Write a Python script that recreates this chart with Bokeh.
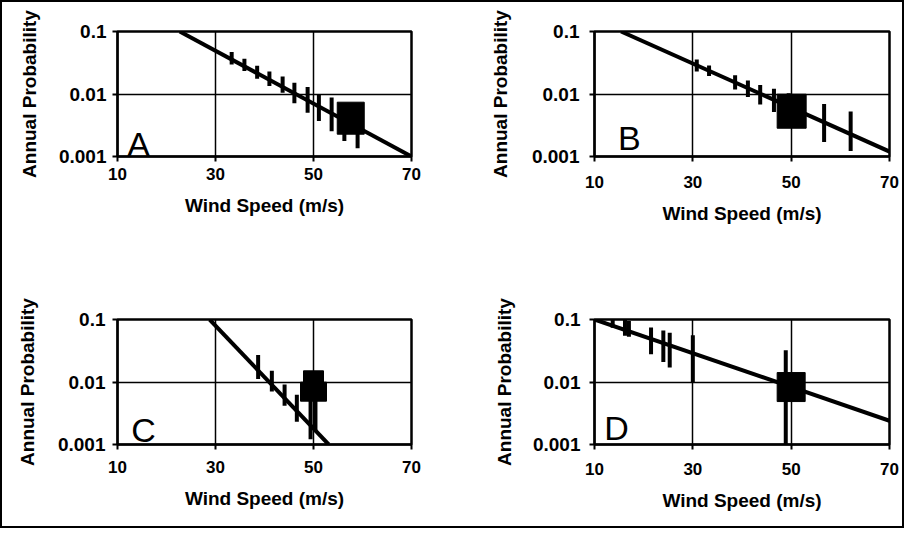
from bokeh.plotting import figure
from bokeh.layouts import gridplot
from bokeh.models import Range1d, FixedTicker, CustomJSTickFormatter, Label
from bokeh.embed import file_html
from bokeh.resources import INLINE

FONT = "Liberation Sans"

x_ticks = [10, 30, 50, 70]
y_ticks = [0.001, 0.01, 0.1]
x_title = "Wind Speed (m/s)"
y_title = "Annual Probability"

# ---- Panel A ----
a_line_x = [22.7, 70]
a_line_y = [0.1, 0.001]
a_bar_x = [33.3, 35.9, 38.5, 41.0, 43.7, 46.1, 48.8, 51.1, 53.7, 56.3, 59.0]
a_bar_lo = [0.0297, 0.0234, 0.0176, 0.0134, 0.0105, 0.00713, 0.00499, 0.00371, 0.00253, 0.00177, 0.00135]
a_bar_hi = [0.0468, 0.0368, 0.0284, 0.0229, 0.0191, 0.0151, 0.0129, 0.00993, 0.00883, 0.0070, 0.0050]
a_mark_x = [57.6]
a_mark_y = [0.0041]

# ---- Panel B ----
b_line_x = [15.4, 70]
b_line_y = [0.1, 0.0012]
b_bar_x = [30.8, 33.3, 38.6, 41.2, 43.7, 46.5, 49.5, 56.7, 62.1]
b_bar_lo = [0.0229, 0.0194, 0.0118, 0.00897, 0.00679, 0.00516, 0.0030, 0.00171, 0.00123]
b_bar_hi = [0.0356, 0.0286, 0.0200, 0.0164, 0.0139, 0.0121, 0.0103, 0.00695, 0.00527]
b_mark_x = [50.1]
b_mark_y = [0.0053]

# ---- Panel C ----
c_line_x = [28.8, 53.1]
c_line_y = [0.1, 0.001]
c_bar_x = [38.7, 41.5, 44.1, 46.6, 49.4, 50.4]
c_bar_lo = [0.0112, 0.00703, 0.00415, 0.00231, 0.00121, 0.0016]
c_bar_hi = [0.0270, 0.0151, 0.0091, 0.00626, 0.0080, 0.0070]
c_mark_x = [50.0]
c_mark_y = [0.0070]
c_cap_y = [0.0121]

# ---- Panel D ----
d_line_x = [10, 70]
d_line_y = [0.1, 0.0024]
d_bar_x = [13.7, 16.2, 17.0, 21.5, 24.0, 25.3, 30.0, 48.9]
d_bar_lo = [0.0741, 0.055, 0.053, 0.0279, 0.0208, 0.0171, 0.0100, 0.0007]
d_bar_hi = [0.140, 0.104, 0.095, 0.0748, 0.0667, 0.0614, 0.056, 0.0321]
d_mark_x = [50.0]
d_mark_y = [0.0083]


def make_panel(letter, letter_x, letter_off, borders, ystand, xstand, ylab_stand, xlab_stand,
               line_x, line_y, bar_x, bar_lo, bar_hi):
    left, right, top, bottom = borders
    p = figure(width=450, height=262, output_backend="svg", toolbar_location=None,
               y_axis_type="log", x_range=Range1d(10, 70), y_range=Range1d(0.001, 0.1),
               min_border_left=left, min_border_right=right,
               min_border_top=top, min_border_bottom=bottom)
    p.background_fill_color = "white"
    p.border_fill_color = "white"
    p.outline_line_color = "black"
    p.outline_line_width = 2.5

    p.xaxis.ticker = FixedTicker(ticks=x_ticks)
    p.yaxis.ticker = FixedTicker(ticks=y_ticks)
    p.yaxis.formatter = CustomJSTickFormatter(code="return tick.toString();")
    for ax in (p.xaxis, p.yaxis):
        ax.axis_line_color = "black"
        ax.axis_line_width = 2
        ax.major_tick_line_color = "black"
        ax.major_tick_line_width = 2
        ax.major_tick_out = 5
        ax.major_tick_in = 0
        ax.minor_tick_line_color = None
        ax.major_label_text_font = FONT
        ax.major_label_text_font_style = "bold"
        ax.major_label_text_color = "black"
        ax.axis_label_text_font = FONT
        ax.axis_label_text_font_style = "bold"
        ax.axis_label_text_font_size = "19px"
        ax.axis_label_text_color = "black"
    p.xaxis.major_label_text_font_size = "17px"
    p.yaxis.major_label_text_font_size = "19px"
    p.xaxis.axis_label = x_title
    p.yaxis.axis_label = y_title
    p.yaxis.major_label_standoff = ystand
    p.xaxis.major_label_standoff = xstand
    p.yaxis.axis_label_standoff = ylab_stand
    p.xaxis.axis_label_standoff = xlab_stand

    for g in (p.xgrid, p.ygrid):
        g.grid_line_color = "black"
        g.grid_line_width = 1.5
        g.grid_line_alpha = 1.0

    p.line(line_x, line_y, line_color="black", line_width=4)
    p.segment(x0=bar_x, y0=bar_lo, x1=bar_x, y1=bar_hi, line_color="black", line_width=4)

    p.add_layout(Label(x=letter_x, y=0.001, text=letter, text_font=FONT,
                       text_font_size="34px", text_color="black",
                       text_baseline="bottom", y_offset=letter_off))
    return p


pa = make_panel("A", 12.0, -6, (114, 41, 29, 108), 6, 6, 16, 12,
                a_line_x, a_line_y, a_bar_x, a_bar_lo, a_bar_hi)
pa.rect(a_mark_x, a_mark_y, width=27, height=32, width_units="screen", height_units="screen",
        fill_color="black", line_color="black")

pb = make_panel("B", 14.8, 0, (133, 11, 22, 105), 10, 14, 18, 12,
                b_line_x, b_line_y, b_bar_x, b_bar_lo, b_bar_hi)
pb.rect(b_mark_x, b_mark_y, width=29, height=34, width_units="screen", height_units="screen",
        fill_color="black", line_color="black")

pc = make_panel("C", 12.8, -4, (115, 41, 55, 80), 7, 11, 17, 12,
                c_line_x, c_line_y, c_bar_x, c_bar_lo, c_bar_hi)
pc.rect(c_mark_x, c_mark_y, width=26, height=19, width_units="screen", height_units="screen",
        fill_color="black", line_color="black")
pc.rect(c_mark_x, c_cap_y, width=20, height=12, width_units="screen", height_units="screen",
        fill_color="black", line_color="black")

pd = make_panel("D", 12.0, -2, (142, 13, 51, 82), 9, 13, 15, 12,
                d_line_x, d_line_y, d_bar_x, d_bar_lo, d_bar_hi)
pd.rect(d_mark_x, d_mark_y, width=28, height=29, width_units="screen", height_units="screen",
        fill_color="black", line_color="black")

grid = gridplot([[pa, pb], [pc, pd]], toolbar_location=None)
grid.styles = {"border": "2px solid black", "background-color": "white"}

open("out.html", "w").write(file_html(grid, INLINE))
